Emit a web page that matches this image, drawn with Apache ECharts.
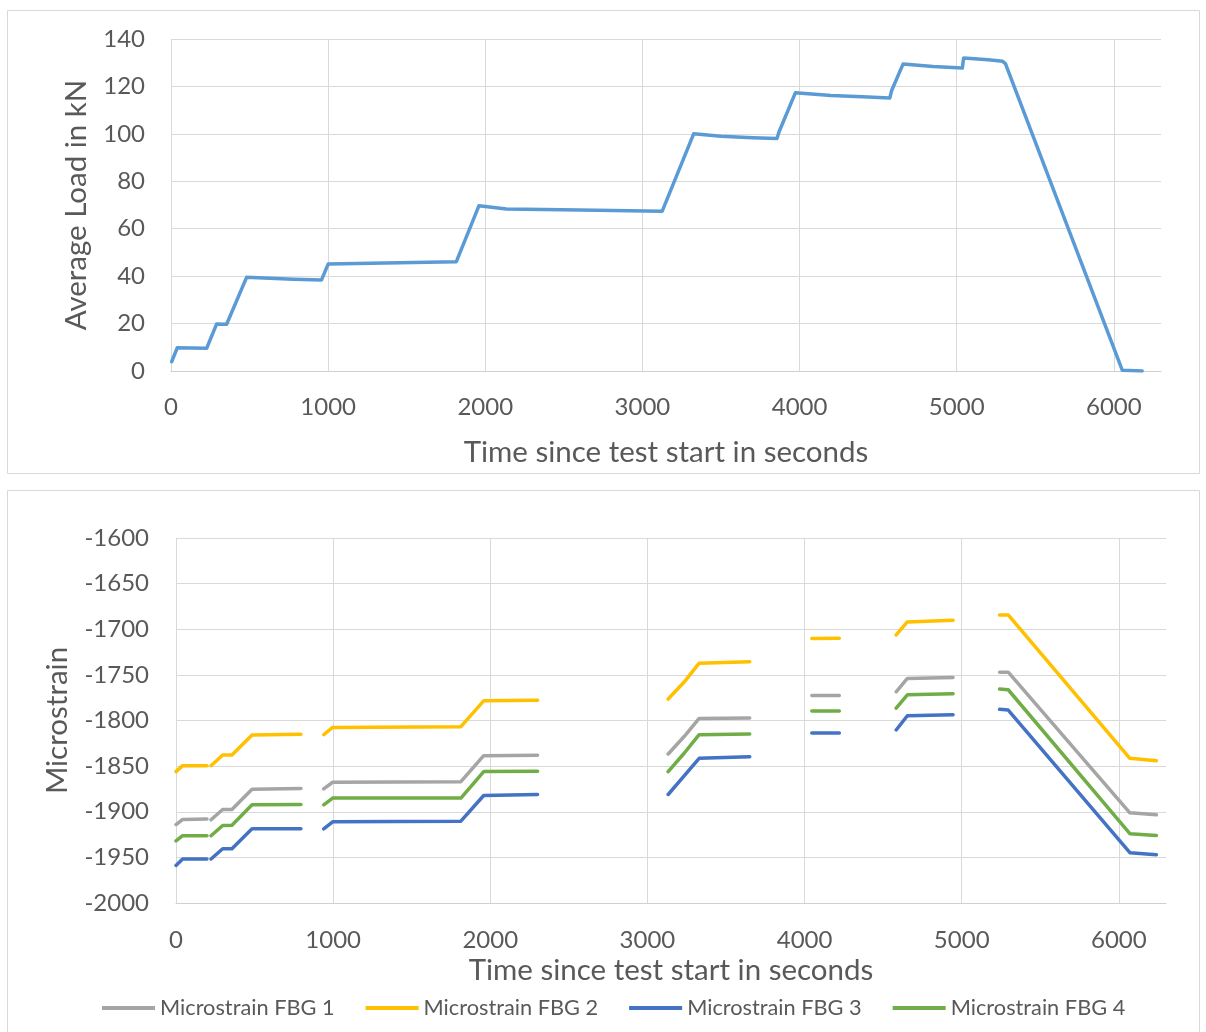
<!DOCTYPE html>
<html>
<head>
<meta charset="utf-8">
<script src="https://cdn.jsdelivr.net/npm/echarts@6/dist/echarts.min.js"></script>
<style>
  html, body { margin: 0; padding: 0; background: #fff; }
  #chart { width: 1206px; height: 1032px; }
</style>
</head>
<body>
<div id="chart"></div>
<script>
// Load cell record: time (s) and average load (kN)
const loadTime = [4, 40, 227, 290, 354, 481, 778, 958, 1000, 1816, 1960, 2134, 2600, 3126, 3326, 3500, 3700, 3856, 3869, 3973, 4200, 4400, 4574, 4586, 4659, 4850, 5036, 5044, 5200, 5292, 5310, 6054, 6180];
const loadKN   = [3.9, 9.8, 9.6, 19.8, 19.7, 39.5, 38.7, 38.4, 45.1, 46.1, 69.7, 68.3, 67.9, 67.4, 100.0, 99.0, 98.4, 98.0, 100.8, 117.3, 116.2, 115.6, 115.1, 118.3, 129.5, 128.4, 127.8, 132.0, 131.2, 130.6, 129.6, 0.3, 0.0];

// FBG strain record: shared time base, null marks a break in logging
const strainTime = [0, 42, 197, null, 223, 297, 356, 484, 795, null, 940, 997, 1813, 1958, 2301, null, 3132, 3235, 3329, 3651, null, 4046, 4221, null, 4583, 4654, 4945, null, 5241, 5296, 6070, 6239];
const fbg1 = [-1914, -1908.5, -1908, null, -1908.8, -1897.5, -1897.5, -1875.3, -1874.6, null, -1875, -1867.7, -1867, -1838.5, -1838.2, null, -1836.7, -1817.3, -1797.7, -1797.3, null, -1772.5, -1772.5, null, -1768.5, -1753.9, -1752.8, null, -1747, -1747, -1901.2, -1903.4];
const fbg2 = [-1856, -1849.5, -1849.5, null, -1849.5, -1837.8, -1837.8, -1816, -1815, null, -1815.6, -1807.6, -1806.8, -1778.4, -1777.7, null, -1776.5, -1757.6, -1737.2, -1735.7, null, -1710.2, -1709.8, null, -1706.2, -1692, -1690.2, null, -1684.3, -1684.3, -1841.4, -1844];
const fbg3 = [-1958.8, -1951.8, -1951.8, null, -1951.8, -1940.5, -1940.5, -1918.7, -1918.7, null, -1918.7, -1911, -1910.3, -1882.2, -1881.2, null, -1881.1, -1860.4, -1841.4, -1839.6, null, -1813.7, -1813.7, null, -1810.4, -1794.8, -1793.7, null, -1787.8, -1788.6, -1944.9, -1947.1];
const fbg4 = [-1932, -1926.3, -1926.3, null, -1926.3, -1915, -1914.7, -1892.4, -1892, null, -1892.4, -1885, -1885, -1856, -1855.6, null, -1856, -1835.6, -1815.5, -1814.8, null, -1789.7, -1789.7, null, -1786.4, -1771.8, -1770.7, null, -1765.6, -1766.3, -1924.1, -1926];

const strainNames = ['Microstrain FBG 1', 'Microstrain FBG 2', 'Microstrain FBG 3', 'Microstrain FBG 4'];
const strainColors = ['#A5A5A5', '#FFC000', '#4472C4', '#70AD47'];

const pairs = (xs, ys) => xs.map((x, i) => (x === null || ys[i] === null) ? [null, null] : [x, ys[i]]);
const plain = v => String(v);

const FONT = 'Lato';
const TXT = '#595959';
const GRID = '#d9d9d9';
const TITLE_SIZE = 29.5;

function xAxisCfg(gridIndex, labelMargin, nameGap) {
  return {
    type: 'value', gridIndex, min: 0, max: 6300, interval: 1000,
    name: 'Time since test start in seconds', nameLocation: 'middle', nameGap,
    nameTextStyle: { color: TXT, fontSize: TITLE_SIZE, fontFamily: FONT },
    axisLine: { show: true, lineStyle: { color: '#cfcfcf', width: 1 } },
    axisTick: { show: false },
    axisLabel: { color: TXT, fontSize: 24, fontFamily: FONT, margin: labelMargin, showMaxLabel: false, formatter: plain },
    splitLine: { show: true, lineStyle: { color: [GRID, GRID, GRID, GRID, GRID, GRID, GRID, 'rgba(0,0,0,0)'], width: 1 } }
  };
}

const chart = echarts.init(document.getElementById('chart'), null, { renderer: 'canvas' });
chart.setOption({
  animation: false,
  backgroundColor: '#ffffff',
  graphic: [
    { type: 'rect', shape: { x: 7.5, y: 10.5, width: 1192, height: 463 }, style: { fill: 'none', stroke: GRID, lineWidth: 1 } },
    { type: 'rect', shape: { x: 7.5, y: 490.5, width: 1192, height: 560 }, style: { fill: 'none', stroke: GRID, lineWidth: 1 } }
  ],
  grid: [
    { left: 171, top: 39, width: 990, height: 332 },
    { left: 176, top: 538, width: 990, height: 365 }
  ],
  legend: {
    bottom: 8, left: 97,
    icon: 'rect', itemWidth: 53, itemHeight: 4, itemGap: 31,
    textStyle: { color: TXT, fontSize: 21.75, fontFamily: FONT },
    data: strainNames
  },
  xAxis: [xAxisCfg(0, 24, 66), xAxisCfg(1, 25, 52)],
  yAxis: [
    {
      type: 'value', gridIndex: 0, min: 0, max: 140, interval: 20,
      name: 'Average Load in kN', nameLocation: 'middle', nameGap: 80,
      nameTextStyle: { color: TXT, fontSize: TITLE_SIZE, fontFamily: FONT },
      axisLine: { show: false }, axisTick: { show: false },
      axisLabel: { color: TXT, fontSize: 24, fontFamily: FONT, margin: 26, formatter: plain },
      splitLine: { lineStyle: { color: GRID, width: 1 } }
    },
    {
      type: 'value', gridIndex: 1, min: -2000, max: -1600, interval: 50,
      name: 'Microstrain', nameLocation: 'middle', nameGap: 104,
      nameTextStyle: { color: TXT, fontSize: TITLE_SIZE, fontFamily: FONT },
      axisLine: { show: false }, axisTick: { show: false },
      axisLabel: { color: TXT, fontSize: 24, fontFamily: FONT, margin: 27, formatter: plain },
      splitLine: { lineStyle: { color: GRID, width: 1 } }
    }
  ],
  series: [
    {
      name: 'Average Load', type: 'line', xAxisIndex: 0, yAxisIndex: 0,
      data: pairs(loadTime, loadKN), showSymbol: false,
      lineStyle: { color: '#5B9BD5', width: 3.5, cap: 'round', join: 'round' },
      itemStyle: { color: '#5B9BD5' }
    }
  ].concat([fbg1, fbg2, fbg3, fbg4].map((vals, i) => ({
    name: strainNames[i], type: 'line', xAxisIndex: 1, yAxisIndex: 1,
    data: pairs(strainTime, vals), showSymbol: false, connectNulls: false,
    lineStyle: { color: strainColors[i], width: 3.5, cap: 'round', join: 'round' },
    itemStyle: { color: strainColors[i] }
  })))
});
</script>
</body>
</html>
